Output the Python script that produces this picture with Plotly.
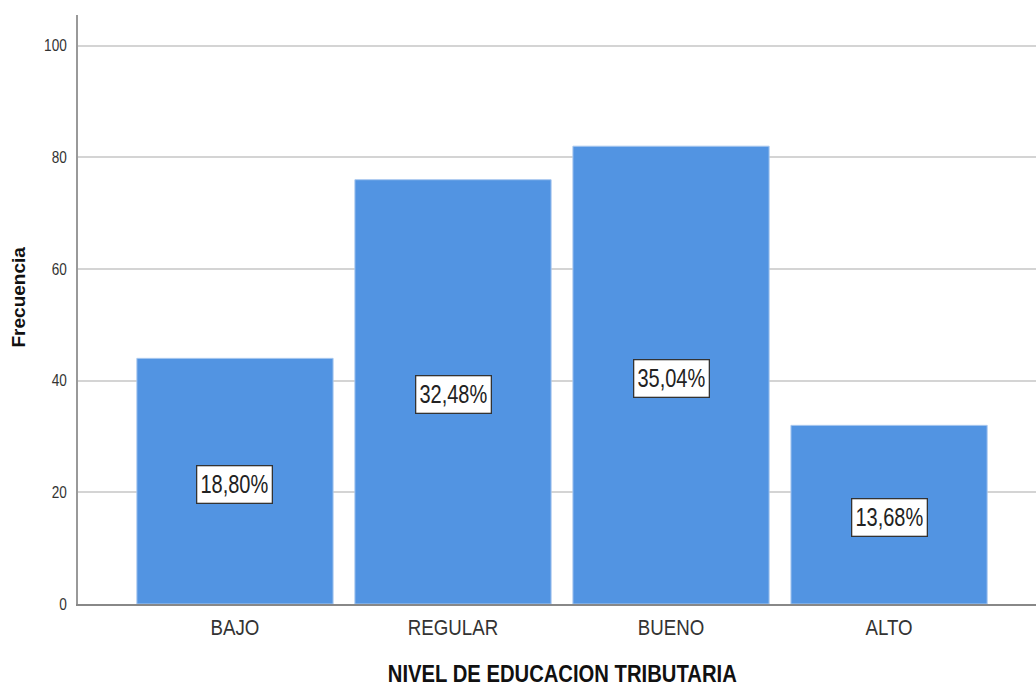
import plotly.graph_objects as go

categories = ["BAJO", "REGULAR", "BUENO", "ALTO"]
frequencies = [44, 76, 82, 32]
percent_labels = ["18,80%", "32,48%", "35,04%", "13,68%"]
y_ticks = [0, 20, 40, 60, 80, 100]
x_title = "NIVEL DE EDUCACION TRIBUTARIA"
y_title = "Frecuencia"

BAR_COLOR = "#5294E2"
FONT = "Liberation Sans, Arial"

fig = go.Figure()
fig.add_trace(go.Bar(
    x=list(range(len(categories))),
    y=frequencies,
    width=0.9,
    marker=dict(color=BAR_COLOR, line=dict(color="#a9c8ef", width=1)),
    hoverinfo="skip",
))

for i, (v, lab) in enumerate(zip(frequencies, percent_labels)):
    fig.add_annotation(
        x=i, y=v / 2, text=lab, showarrow=False, yshift=-3,
        font=dict(family=FONT, size=25, color="#222222"),
        width=68, height=30, align="center",
        bgcolor="white", bordercolor="#333333", borderwidth=1.3, borderpad=3,
    )

# axis titles as annotations for exact placement
fig.add_annotation(
    xref="paper", yref="paper", x=0.5, y=0, xshift=5, yshift=-70,
    xanchor="center", yanchor="middle", showarrow=False,
    text="<b>" + x_title + "</b>",
    font=dict(family=FONT, size=23, color="#111111"),
)
fig.add_annotation(
    xref="paper", yref="paper", x=0, y=0.5, xshift=-60, yshift=12,
    xanchor="center", yanchor="middle", showarrow=False, textangle=-90,
    text="<b>" + y_title + "</b>",
    font=dict(family=FONT, size=19, color="#111111"),
)

fig.update_layout(
    width=1036, height=686,
    margin=dict(l=78, r=0, t=15, b=82),
    paper_bgcolor="white", plot_bgcolor="white",
    showlegend=False,
    font=dict(family=FONT, color="#333333"),
)

fig.update_xaxes(
    range=[-0.72, 3.674],
    tickmode="array", tickvals=list(range(len(categories))), ticktext=categories,
    tickfont=dict(family=FONT, size=22, color="#333333"),
    showgrid=False, zeroline=False,
    showline=True, linecolor="#888888", linewidth=2,
    ticks="", ticklabelstandoff=3,
)

fig.update_yaxes(
    range=[0, 105.5],
    tickmode="array", tickvals=y_ticks,
    tickfont=dict(family=FONT, size=16, color="#333333"),
    showgrid=True, gridcolor="#d4d4d4", gridwidth=2,
    zeroline=False,
    showline=True, linecolor="#999999", linewidth=2,
    ticks="", ticklabelstandoff=6,
)

post = """
document.body.style.margin = '0';
var gd = document.getElementById('{plot_id}');
function sq(t, T) {
  t.setAttribute('textLength', T.toFixed(1));
  t.setAttribute('lengthAdjust', 'spacingAndGlyphs');
}
gd.querySelectorAll('text.annotation-text').forEach(function (t) {
  var s = t.textContent;
  var L = t.getComputedTextLength();
  if (s.indexOf('%') >= 0) { sq(t, L * 0.8); }
  else if (s.indexOf('NIVEL') === 0) { sq(t, 349); }
});
gd.querySelectorAll('.xtick text').forEach(function (t) { sq(t, t.getComputedTextLength() * 0.85); });
gd.querySelectorAll('.ytick text').forEach(function (t) { sq(t, t.getComputedTextLength() * 0.85); });
"""

fig.write_html("out.html", post_script=post, config={"displayModeBar": False})
